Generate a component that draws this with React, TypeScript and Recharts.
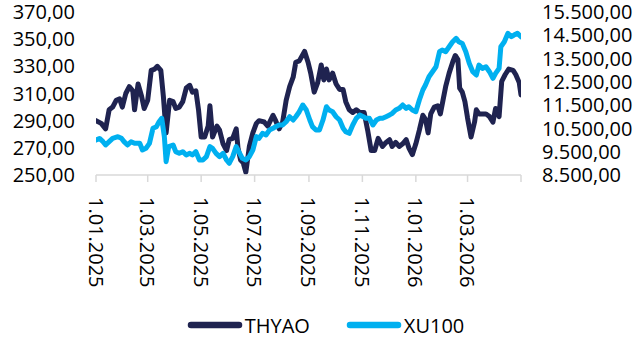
import { LineChart, Line, XAxis, YAxis, Legend } from 'recharts';

// days since 1.01.2025
const dateTicks = [0, 59, 120, 181, 243, 304, 365, 424, 485];
const dateLabels = [
  '1.01.2025',
  '1.03.2025',
  '1.05.2025',
  '1.07.2025',
  '1.09.2025',
  '1.11.2025',
  '1.01.2026',
  '1.03.2026',
  '',
];

const leftTicks = [250, 270, 290, 310, 330, 350, 370];
const rightTicks = [8500, 9500, 10500, 11500, 12500, 13500, 14500, 15500];

const thyaoDays = [
  0, 6, 11, 15, 19, 23, 27, 30, 34, 38, 42, 44, 48, 52, 55, 59, 63, 67, 70, 74,
  77, 80, 84, 88, 91, 95, 99, 103, 107, 110, 114, 117, 120, 124, 128, 130, 133, 138, 141, 145,
  149, 152, 156, 160, 162, 165, 168, 171, 175, 179, 183, 186, 192, 196, 202, 205, 209, 213, 217, 221,
  225, 228, 232, 238, 242, 245, 249, 253, 257, 260, 263, 266, 270, 274, 278, 282, 285, 289, 293, 297,
  301, 306, 310, 314, 318, 322, 327, 331, 335, 338, 342, 346, 350, 354, 357, 361, 365, 369, 373, 376,
  379, 382, 386, 390, 393, 396, 399, 403, 407, 410, 413, 415, 418, 421, 424, 428, 432, 434, 437, 441,
  445, 449, 453, 456, 460, 463, 467, 471, 476, 479, 483, 485,
];
const thyaoValues = [
  290, 288, 284, 298, 300, 305, 306, 300, 310, 315, 312, 298, 317, 308, 299, 305, 327, 328, 330, 327,
  307, 281, 305, 304, 299, 300, 304, 314, 316, 311, 312, 298, 278, 278, 286, 301, 278, 286, 283, 273,
  268, 276, 277, 284, 270, 261, 259, 252, 271, 281, 288, 290, 289, 286, 294, 290, 284, 289, 305, 315,
  322, 333, 334, 341, 333, 325, 311, 318, 331, 320, 328, 320, 325, 317, 313, 313, 304, 298, 296, 298,
  296, 296, 283, 268, 268, 277, 271, 274, 276, 271, 274, 271, 273, 276, 270, 265, 273, 283, 294, 291,
  281, 295, 300, 301, 295, 305, 315, 325, 333, 338, 335, 314, 311, 304, 292, 278, 289, 298, 295, 295,
  295, 293, 289, 299, 293, 319, 324, 328, 327, 324, 318, 309,
];

const xu100Days = [
  0, 4, 8, 11, 15, 19, 25, 29, 32, 36, 40, 44, 50, 53, 57, 61, 65, 69, 72, 75,
  78, 80, 83, 88, 91, 95, 99, 103, 107, 110, 114, 118, 122, 126, 130, 133, 137, 141, 145, 149,
  152, 156, 160, 164, 167, 171, 175, 179, 183, 186, 190, 194, 198, 202, 205, 209, 213, 217, 221, 225,
  228, 232, 236, 240, 244, 247, 251, 255, 259, 263, 266, 270, 274, 278, 282, 285, 289, 293, 297, 301,
  305, 308, 312, 316, 320, 324, 327, 331, 335, 338, 342, 346, 350, 354, 357, 361, 365, 369, 373, 376,
  380, 384, 388, 392, 395, 399, 403, 407, 411, 414, 418, 422, 426, 430, 434, 437, 441, 445, 449, 453,
  456, 460, 462, 466, 470, 474, 477, 481, 485,
];
const xu100Values = [
  10000, 10070, 9930, 9790, 9930, 10075, 10146, 10075, 9932, 9788, 9930, 9860, 9860, 9573, 9645, 9860, 10505, 10575, 10789, 10934,
  10146, 9072, 9716, 9788, 9501, 9430, 9501, 9359, 9430, 9359, 9501, 9144, 9144, 9287, 9716, 9645, 9430, 9287, 9430, 9144,
  9002, 9287, 9716, 9430, 9215, 9144, 9287, 9573, 10146, 10075, 10289, 10218, 10432, 10505, 10575, 10647, 10647, 10789, 11004, 10861,
  11004, 11218, 11506, 11290, 10861, 10575, 10432, 10432, 10861, 11433, 11290, 11218, 11004, 10861, 10505, 10360, 10289, 10647, 10934, 11076,
  11004, 10934, 10934, 10647, 10861, 10934, 10934, 11004, 11076, 11148, 11291, 11362, 11506, 11362, 11433, 11291, 11218, 11720, 12150, 12364,
  12721, 12936, 13150, 13794, 13865, 13794, 14009, 14224, 14367, 14224, 14152, 13794, 13294, 12936, 12794, 13222, 13079, 13150, 12936, 12650,
  12865, 13079, 14009, 14224, 14583, 14438, 14510, 14583, 14438,
];

const thyaoData = thyaoDays.map((day, i) => ({ day, value: thyaoValues[i] }));
const xu100Data = xu100Days.map((day, i) => ({ day, value: xu100Values[i] }));

const THYAO_COLOR = '#1f2350';
const XU100_COLOR = '#00b0f0';
const FONT = '"Open Sans", sans-serif';

// 1234.5 -> "1.234,50"
const trNumber = (v: number) => {
  const [int, dec] = v.toFixed(2).split('.');
  return `${int.replace(/\B(?=(\d{3})+(?!\d))/g, '.')},${dec}`;
};

const DateTick = (props: any) => {
  const { x, y, payload } = props;
  const label = dateLabels[dateTicks.indexOf(payload.value)];
  if (!label) return null;
  return (
    <text
      x={x}
      y={y}
      transform={`rotate(90, ${x}, ${y})`}
      textAnchor="start"
      dominantBaseline="central"
      fill="#000"
      fontSize={20}
      fontFamily={FONT}
    >
      {label}
    </text>
  );
};

const legendItems = [
  { name: 'THYAO', color: THYAO_COLOR },
  { name: 'XU100', color: XU100_COLOR },
];

const LegendContent = () => (
  <div
    style={{
      display: 'flex',
      justifyContent: 'center',
      alignItems: 'center',
      height: 30,
      paddingLeft: 10,
      fontFamily: FONT,
      fontSize: 20,
      color: '#000',
    }}
  >
    {legendItems.map((item, i) => (
      <div key={item.name} style={{ display: 'flex', alignItems: 'center', marginLeft: i ? 36 : 0 }}>
        <svg width={56} height={10} style={{ marginRight: 2 }}>
          <line x1={4} x2={52} y1={5} y2={5} stroke={item.color} strokeWidth={6.5} strokeLinecap="round" />
        </svg>
        <span>{item.name}</span>
      </div>
    ))}
  </div>
);

export default function App() {
  return (
    <div style={{ position: 'fixed', left: 0, top: 0, width: 641, height: 344, background: '#fff' }}>
      <LineChart width={641} height={344} margin={{ top: 12, right: 0, bottom: 4, left: 0 }}>
        <XAxis
          dataKey="day"
          type="number"
          domain={[0, 485]}
          ticks={dateTicks}
          interval={0}
          allowDataOverflow
          height={135}
          stroke="#d9d9d9"
          strokeWidth={1.5}
          tickSize={7}
          tickMargin={15}
          tick={<DateTick />}
        />
        <YAxis
          yAxisId="left"
          domain={[250, 370]}
          ticks={leftTicks}
          interval={0}
          width={96}
          axisLine={false}
          tickLine={false}
          tickSize={0}
          tickMargin={21}
          tickFormatter={trNumber}
          tick={{ fill: '#000', fontSize: 20, fontFamily: FONT }}
        />
        <YAxis
          yAxisId="right"
          orientation="right"
          domain={[8500, 15500]}
          ticks={rightTicks}
          interval={0}
          width={120}
          axisLine={false}
          tickLine={false}
          tickSize={0}
          tickMargin={21}
          tickFormatter={trNumber}
          tick={{ fill: '#000', fontSize: 20, fontFamily: FONT }}
        />
        <Line
          data={thyaoData}
          yAxisId="left"
          dataKey="value"
          name="THYAO"
          type="linear"
          stroke={THYAO_COLOR}
          strokeWidth={5}
          strokeLinejoin="round"
          strokeLinecap="round"
          dot={false}
          isAnimationActive={false}
        />
        <Line
          data={xu100Data}
          yAxisId="right"
          dataKey="value"
          name="XU100"
          type="linear"
          stroke={XU100_COLOR}
          strokeWidth={5}
          strokeLinejoin="round"
          strokeLinecap="round"
          dot={false}
          isAnimationActive={false}
        />
        <Legend verticalAlign="bottom" height={30} content={<LegendContent />} />
      </LineChart>
    </div>
  );
}
